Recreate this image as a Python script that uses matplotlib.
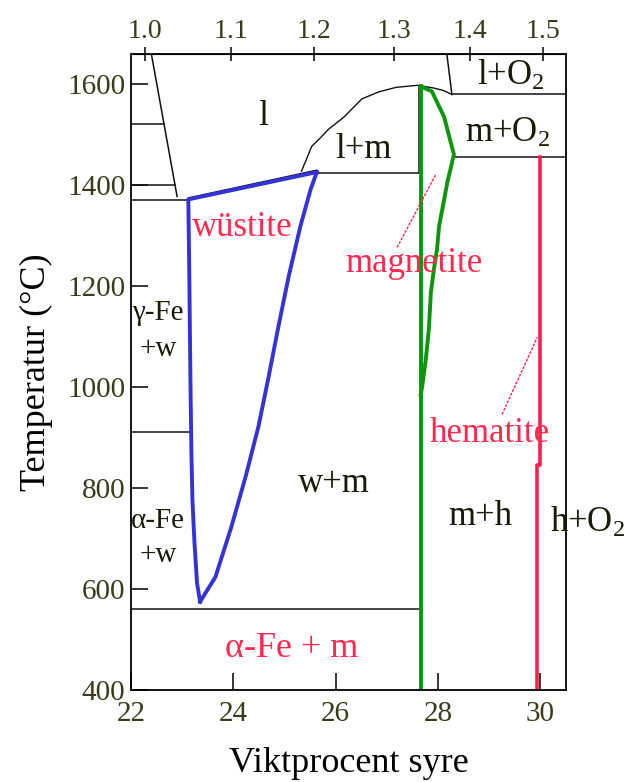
import matplotlib.pyplot as plt

plt.rcParams['font.family'] = ['Liberation Serif', 'DejaVu Serif']
plt.rcParams['mathtext.fontset'] = 'custom'
plt.rcParams['mathtext.rm'] = 'Liberation Serif'
plt.rcParams['mathtext.it'] = 'Liberation Serif:italic'

# wustite field (wt% O, degC)
wus_left_x = [25.63, 23.12, 23.14, 23.16, 23.18, 23.20, 23.24, 23.29, 23.35]
wus_left_y = [1426, 1372, 1213, 1021, 870, 777, 692, 612, 575]
wus_right_x = [25.63, 25.51, 25.31, 25.08, 24.88, 24.69, 24.49, 24.24, 23.96, 23.65, 23.35]
wus_right_y = [1426, 1392, 1319, 1219, 1120, 1021, 922, 823, 723, 624, 575]

# magnetite field
mag_left_x = [27.66, 27.66]
mag_left_y = [1596, 400]
mag_right_x = [27.66, 27.88, 28.12, 28.31, 28.18, 28.12, 28.02, 27.98, 27.92, 27.86, 27.82, 27.76, 27.69, 27.66]
mag_right_y = [1596, 1586, 1535, 1461, 1405, 1372, 1319, 1273, 1234, 1188, 1114, 1055, 1001, 985]

# hematite
hem_x = [30.0, 30.0, 29.94, 29.94]
hem_y = [1457, 846, 846, 400]

# liquidus lines
liq_fe_x = [22.38, 22.90]
liq_fe_y = [1670, 1378]
dome_x = [25.33, 25.43, 25.53, 25.71, 25.86, 26.16, 26.51, 26.84, 27.18, 27.59, 27.66, 27.9, 28.1, 28.27]
dome_y = [1428, 1452, 1477, 1495, 1511, 1535, 1571, 1585, 1594, 1598, 1597, 1593, 1588, 1580]
gas_x = [28.16, 28.27]
gas_y = [1670, 1580]

# horizontal isotherms: (temperature, x start, x end)
iso_t = [1521, 1400, 1371, 912, 560, 1424, 1580, 1457]
iso_x0 = [22.0, 22.0, 22.0, 22.0, 22.0, 25.63, 28.27, 28.31]
iso_x1 = [22.64, 22.86, 23.12, 23.18, 27.66, 27.66, 30.5, 30.5]

# O/Fe ratio ticks on top axis
ratio_ticks = [1.0, 1.1, 1.2, 1.3, 1.4, 1.5]

def wt_to_ratio(w):
    return 55.85 * w / (1600 - 16 * w)

def ratio_to_wt(r):
    return 1600 * r / (55.85 + 16 * r)

fig = plt.figure(figsize=(6.29, 7.82), dpi=100)
ax = fig.add_axes([0.2083, 0.1176, 0.6915, 0.8133])

black = '#111111'
ax.plot(liq_fe_x, liq_fe_y, color=black, lw=1.1)
ax.plot(dome_x, dome_y, color=black, lw=1.0)
ax.plot(gas_x, gas_y, color=black, lw=1.1)
ax.plot([27.62, 27.62], [1424, 1597], color=black, lw=1.1)
ax.plot([23.12, 25.63], [1375, 1430], color=black, lw=1.0)
for t, a, b in zip(iso_t, iso_x0, iso_x1):
    ax.plot([a, b], [t, t], color=black, lw=1.1)

ax.plot(wus_left_x, wus_left_y, color='#3333d6', lw=2.8)
ax.plot(wus_right_x, wus_right_y, color='#3333d6', lw=2.8)
ax.plot(mag_left_x, mag_left_y, color='#0b960b', lw=2.8)
ax.plot(mag_right_x, mag_right_y, color='#0b960b', lw=2.8)
ax.plot(hem_x, hem_y, color='#ff1f4f', lw=2.6)

# leader lines for labels
ax.plot([27.20, 27.96], [1277, 1422], color='#ff2255', lw=1.0, ls=(0, (2, 1)))
ax.plot([29.25, 29.94], [946, 1099], color='#ff2255', lw=1.0, ls=(0, (2, 1)))

txt = '#1a1a0a'
red = '#ff2a50'
ax.text(24.59, 1537, 'l', fontsize=26, color=txt, ha='center', va='center')
ax.text(26.55, 1471, 'l+m', fontsize=25, color=txt, ha='center', va='center')
ax.text(29.43, 1598, 'l+O$_2$', fontsize=25, color=txt, ha='center', va='baseline')
ax.text(29.35, 1485, 'm+O$_2$', fontsize=25, color=txt, ha='center', va='baseline')
ax.text(24.18, 1299, 'wüstite', fontsize=25, color=red, ha='center', va='baseline')
ax.text(27.53, 1229, 'magnetite', fontsize=25, color=red, ha='center', va='baseline')
ax.text(29.0, 892, 'hematite', fontsize=25, color=red, ha='center', va='baseline')
ax.text(25.96, 793, 'w+m', fontsize=25, color=txt, ha='center', va='baseline')
ax.text(28.82, 727, 'm+h', fontsize=25, color=txt, ha='center', va='baseline')
ax.text(30.18, 713, 'h+O$_2$', fontsize=25, color=txt, ha='left', va='baseline')
ax.text(22.53, 1134, 'γ-Fe', fontsize=21, color=txt, ha='center', va='baseline')
ax.text(22.53, 1061, '+w', fontsize=21, color=txt, ha='center', va='baseline')
ax.text(22.53, 721, 'α-Fe', fontsize=21, color=txt, ha='center', va='baseline')
ax.text(22.53, 654, '+w', fontsize=21, color=txt, ha='center', va='baseline')
ax.text(25.14, 465, 'α-Fe + m', fontsize=26, color=red, ha='center', va='baseline')

ax.set_xlim(22, 30.5)
ax.set_ylim(400, 1660)
ax.set_xticks([22, 24, 26, 28, 30])
ax.set_yticks([400, 600, 800, 1000, 1200, 1400, 1600])
ax.tick_params(axis='both', direction='in', length=12, width=1.1, labelsize=21,
               labelcolor='#3a3a1c', pad=4)
ax.tick_params(axis='x', pad=8)
for s in ax.spines.values():
    s.set_linewidth(1.3)

top = ax.secondary_xaxis('top', functions=(wt_to_ratio, ratio_to_wt))
top.set_xticks(ratio_ticks)
top.set_xticklabels(['%.1f' % r for r in ratio_ticks])
top.tick_params(direction='inout', length=10, width=1.1, labelsize=20,
                labelcolor='#3a3a1c', pad=2)

ax.set_xlabel('Viktprocent syre', fontsize=26, labelpad=14)
ax.set_ylabel('Temperatur (°C)', fontsize=26, labelpad=10)

fig.savefig('out.png', dpi=100)
